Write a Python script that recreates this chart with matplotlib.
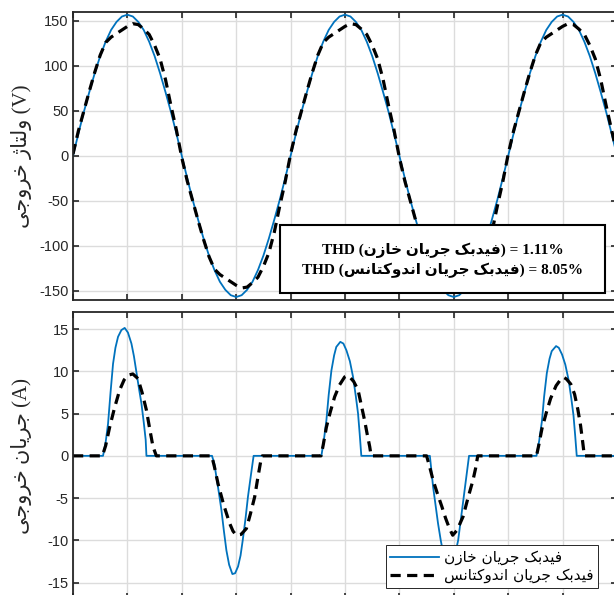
import numpy as np
import matplotlib
matplotlib.use('Agg')
import matplotlib.pyplot as plt
from matplotlib.patches import Rectangle

# ---- data (time in ms) ----
t_volt = np.arange(0, 50.5, 0.5)
v_cap = [0, 25, 49, 71, 92, 111, 127, 140, 149, 155, 157, 155, 149, 140, 127, 111, 92, 71, 49, 25,
         0, -25, -49, -71, -92, -111, -127, -140, -149, -155, -157, -155, -149, -140, -127, -111, -92, -71, -49, -25,
         0, 25, 49, 71, 92, 111, 127, 140, 149, 155, 157, 155, 149, 140, 127, 111, 92, 71, 49, 25,
         0, -25, -49, -71, -92, -111, -127, -140, -149, -155, -157, -155, -149, -140, -127, -111, -92, -71, -49, -25,
         0, 25, 49, 71, 92, 111, 127, 140, 149, 155, 157, 155, 149, 140, 127, 111, 92, 71, 49, 25,
         0]
v_ind = [2, 28, 50, 72, 93, 112, 126, 132, 136, 140, 144, 147, 146, 141, 135, 123, 108, 85, 56, 29,
         -2, -28, -50, -72, -93, -112, -126, -132, -136, -140, -144, -147, -146, -141, -135, -123, -108, -85, -56, -29,
         2, 28, 50, 72, 93, 112, 126, 132, 136, 140, 144, 147, 146, 141, 135, 123, 108, 85, 56, 29,
         -2, -28, -50, -72, -93, -112, -126, -132, -136, -140, -144, -147, -146, -141, -135, -123, -108, -85, -56, -29,
         2, 28, 50, 72, 93, 112, 126, 132, 136, 140, 144, 147, 146, 141, 135, 123, 108, 85, 56, 29,
         2]

t_icap = [0, 2.76, 3.0, 3.22, 3.45, 3.68, 3.9, 4.14, 4.45, 4.75, 5.05, 5.37, 5.6, 5.83, 6.06, 6.29, 6.5, 6.68, 6.75,
          12.78, 13.0, 13.18, 13.4, 13.64, 13.87, 14.1, 14.35, 14.65, 14.9, 15.17, 15.4, 15.6, 15.85, 16.08, 16.35, 16.6,
          22.83, 23.05, 23.29, 23.5, 23.75, 24.0, 24.2, 24.57, 24.85, 25.13, 25.45, 25.74, 26.0, 26.2, 26.35, 26.5,
          32.8, 33.1, 33.33, 33.55, 33.8, 34.1, 34.4, 34.65, 34.9, 35.15, 35.4, 35.7, 35.95, 36.2, 36.4,
          42.6, 42.85, 43.1, 43.3, 43.55, 43.8, 44.0, 44.4, 44.65, 44.95, 45.25, 45.55, 45.8, 46.0, 46.15, 46.3, 50]
i_cap = [0, 0, 1.6, 3.8, 7.5, 10.9, 12.8, 14.1, 14.9, 15.15, 14.6, 13.3, 11.8, 9.9, 8.0, 6.2, 4.0, 1.9, 0,
         0, -1.0, -2.5, -4.3, -6.4, -8.9, -11.2, -12.9, -14.0, -13.9, -13.1, -11.8, -10.0, -7.5, -4.85, -2.3, 0,
         0, 1.8, 4.2, 7.2, 10.1, 11.9, 12.9, 13.5, 13.3, 12.5, 11.2, 9.35, 7.0, 5.0, 2.6, 0,
         0, -3.7, -5.9, -8.0, -10.0, -12.0, -13.0, -13.2, -12.8, -11.5, -10.0, -7.0, -4.5, -2.0, 0,
         0, 1.8, 4.1, 7.0, 9.8, 11.5, 12.4, 13.0, 12.8, 12.0, 10.8, 9.0, 6.8, 4.8, 2.5, 0, 0]

t_iind = [0, 2.7, 3.0, 3.37, 3.8, 4.29, 4.7, 5.06, 5.5, 5.97, 6.35, 6.75, 7.05, 7.35, 7.66,
          12.75, 13.0, 13.33, 13.85, 14.4, 14.7, 15.0, 15.45, 15.94, 16.3, 16.7, 17.0, 17.3, 17.4,
          22.8, 23.0, 23.29, 23.65, 24.05, 24.5, 24.97, 25.2, 25.43, 25.8, 26.2, 26.5, 26.8, 27.05, 27.27, 27.4,
          32.5, 32.8, 33.1, 33.5, 33.9, 34.25, 34.6, 34.9, 35.3, 35.85, 36.3, 36.76, 37.0, 37.2,
          42.6, 42.8, 43.1, 43.5, 43.9, 44.4, 44.85, 45.1, 45.35, 45.75, 46.1, 46.4, 46.65, 46.85, 47.0, 50]
i_ind = [0, 0, 1.2, 3.4, 5.6, 7.8, 9.0, 9.55, 9.7, 9.15, 7.5, 5.4, 3.2, 1.1, 0,
         0, -1.3, -3.3, -5.8, -8.0, -8.9, -9.4, -9.3, -8.6, -6.9, -4.85, -2.5, -0.3, 0,
         0, 1.3, 3.4, 5.2, 7.0, 8.4, 9.35, 9.5, 9.35, 8.8, 7.8, 6.0, 4.2, 2.5, 1.1, 0,
         0, -1.4, -2.9, -4.5, -6.0, -7.4, -8.6, -9.4, -8.8, -7.2, -5.0, -2.9, -1.5, 0,
         0, 1.2, 3.2, 5.1, 6.8, 8.3, 9.1, 9.3, 9.1, 8.5, 7.3, 5.5, 3.6, 1.6, 0, 0]

v_ticks = [-150, -100, -50, 0, 50, 100, 150]
i_ticks = [-15, -10, -5, 0, 5, 10, 15]
t_ticks = np.arange(0, 51, 5)
thd_cap = '1.11%'
thd_ind = '8.05%'

# Persian words, pre-shaped (presentation forms) in visual order
w_voltage = '\ufb8a\ufe8e\ufe98\ufedf\ufeed'
w_output = '\ufef0\ufe9f\ufeed\ufeae\ufea7'
w_current = '\ufee5\ufe8e\ufef3\ufeae\ufe9f'
w_feedback = '\ufb8f\ufe91\ufeaa\ufef4\ufed3'
w_cap = '\ufee5\ufeaf\ufe8e\ufea7'
w_ind = '\ufeb2\ufee7\ufe8e\ufe98\ufb90\ufeed\ufeaa\ufee7\ufe8d'

label_v = w_output + ' ' + w_voltage + ' (V)'
label_i = w_output + ' ' + w_current + ' (A)'
leg_cap = w_cap + ' ' + w_current + ' ' + w_feedback
leg_ind = w_ind + ' ' + w_current + ' ' + w_feedback

BLUE = '#0072BD'
DARK = '#262626'
W, H = 614, 595

fig = plt.figure(figsize=(W / 100, H / 100), dpi=100)
ax1 = fig.add_axes([73 / W, 1 - 299.7 / H, 544 / W, (299.7 - 12) / H])
ax2 = fig.add_axes([73 / W, 1 - 599.4 / H, 544 / W, (599.4 - 312.3) / H])


def style(ax, yticks, ylim, label):
    ax.set_xlim(0, 50)
    ax.set_ylim(*ylim)
    ax.set_xticks(t_ticks)
    ax.set_yticks(yticks)
    ax.set_yticklabels([str(v) for v in yticks], fontfamily='Liberation Sans', fontsize=10.5, color=DARK)
    ax.tick_params(direction='in', length=4, width=1.2, color=DARK, top=True, right=True,
                   labelbottom=False, pad=3)
    ax.grid(True, color='#dcdcdc', lw=1.0)
    ax.set_axisbelow(True)
    for s in ax.spines.values():
        s.set_linewidth(1.3)
        s.set_color(DARK)
    ax.set_ylabel(label, family=['Liberation Serif', 'DejaVu Sans'], fontsize=15, color=DARK, va='center')
    ax.yaxis.set_label_coords((22 - 73) / 544, 0.5)


ax1.plot(t_volt, v_cap, color=BLUE, lw=1.3)
ax1.plot(t_volt, v_ind, color='black', lw=2.3, dashes=(3.2, 2.0))
style(ax1, v_ticks, (-160, 160), label_v)

ax2.plot(t_icap, i_cap, color=BLUE, lw=1.3, label=leg_cap)
ax2.plot(t_iind, i_ind, color='black', lw=2.3, dashes=(3.2, 2.0), label=leg_ind)
style(ax2, i_ticks, (-17, 17), label_i)

leg = ax2.legend(loc='lower right', bbox_to_anchor=(598 / W, 1 - 588 / H), bbox_transform=fig.transFigure,
                 borderaxespad=0, fancybox=False, framealpha=1, edgecolor=DARK, handlelength=3.2,
                 handletextpad=0.3, labelspacing=0.2, borderpad=0.3,
                 prop={'family': ['DejaVu Sans'], 'size': 11})
leg.get_frame().set_linewidth(0.7)

# THD annotation box
fig.patches.append(Rectangle((280 / W, 1 - 293 / H), 325 / W, 68 / H, transform=fig.transFigure,
                             facecolor='white', edgecolor='black', lw=1.5, zorder=5))
thd_font = dict(family=['Liberation Serif', 'DejaVu Sans'], fontsize=11, fontweight='bold',
                ha='center', va='center', zorder=6)
fig.text(442.5 / W, 1 - 250 / H, 'THD (' + leg_cap + ') = ' + thd_cap, **thd_font)
fig.text(442.5 / W, 1 - 270 / H, 'THD (' + leg_ind + ') = ' + thd_ind, **thd_font)

fig.savefig('out.png', dpi=100)
